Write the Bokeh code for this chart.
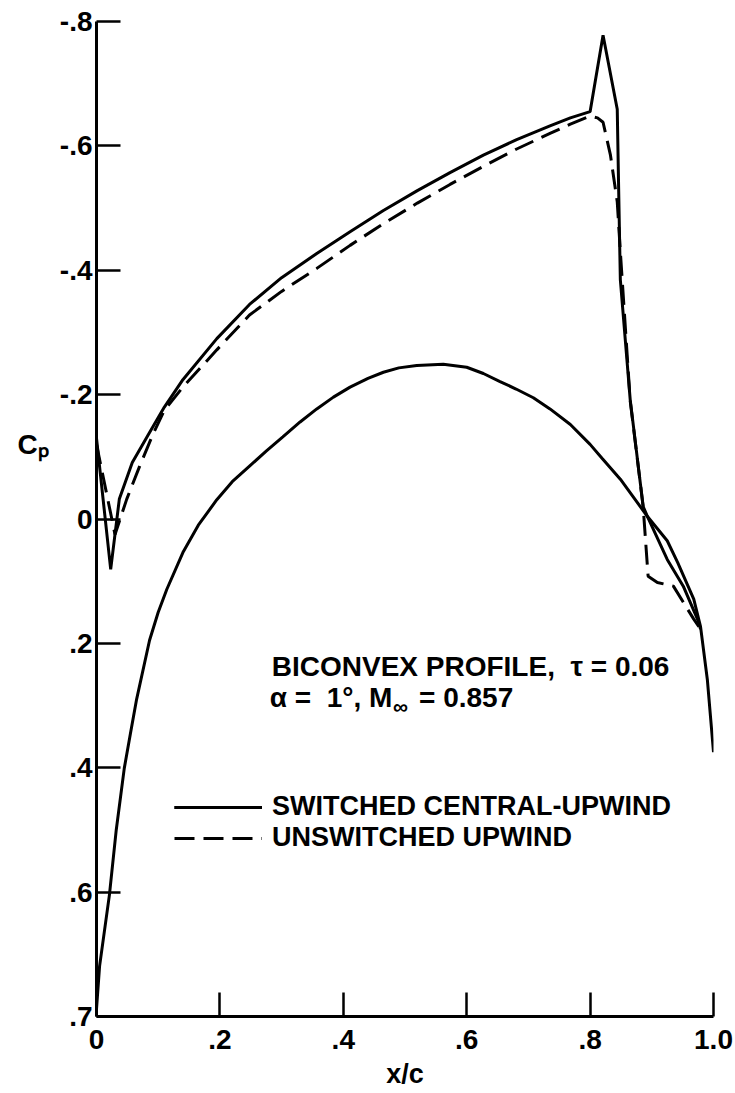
from bokeh.plotting import figure
from bokeh.models import Range1d, FixedTicker, Label
from bokeh.embed import file_html
from bokeh.resources import INLINE

# ---------------- data ----------------
x_ticks = [0.0, 0.2, 0.4, 0.6, 0.8, 1.0]
x_tick_labels = ["0", ".2", ".4", ".6", ".8", "1.0"]
y_ticks = [-0.8, -0.6, -0.4, -0.2, 0.0, 0.2, 0.4, 0.6, 0.8]
y_tick_labels = ["-.8", "-.6", "-.4", "-.2", "0", ".2", ".4", ".6", ".7"]

# switched central-upwind, upper surface
sw_upper_x = [0.0, 0.023, 0.037, 0.058, 0.086, 0.11, 0.14, 0.195, 0.248, 0.30, 0.357, 0.411,
              0.465, 0.52, 0.573, 0.627, 0.681, 0.735, 0.768, 0.80, 0.821, 0.844,
              0.846, 0.849, 0.865, 0.886, 0.893, 0.925, 0.951, 0.974, 0.979]
sw_upper_y = [-0.13, 0.081, -0.032, -0.091, -0.139, -0.18, -0.224, -0.29, -0.345, -0.388, -0.427, -0.462,
              -0.496, -0.528, -0.557, -0.585, -0.61, -0.632, -0.645, -0.655, -0.778, -0.659,
              -0.546, -0.385, -0.192, -0.02, -0.004, 0.065, 0.108, 0.161, 0.177]

# switched central-upwind, lower surface
sw_lower_x = [0.0, 0.005, 0.021, 0.032, 0.045, 0.055, 0.065, 0.086, 0.10, 0.114, 0.14, 0.165,
              0.195, 0.22, 0.248, 0.275, 0.302, 0.33, 0.357, 0.384, 0.411, 0.44, 0.465, 0.49,
              0.519, 0.562, 0.600, 0.627, 0.654, 0.68, 0.708, 0.735, 0.768, 0.80, 0.82, 0.849,
              0.893, 0.925, 0.942, 0.968, 0.979, 0.990, 1.0]
sw_lower_y = [0.788, 0.719, 0.604, 0.50, 0.401, 0.345, 0.29, 0.195, 0.15, 0.113, 0.054, 0.01,
              -0.031, -0.06, -0.085, -0.109, -0.132, -0.156, -0.177, -0.196, -0.212, -0.226, -0.236, -0.243,
              -0.247, -0.249, -0.244, -0.234, -0.221, -0.209, -0.195, -0.177, -0.152, -0.12, -0.097, -0.064,
              -0.004, 0.035, 0.07, 0.129, 0.173, 0.258, 0.375]

# unswitched upwind, upper surface
un_upper_x = [0.0, 0.03, 0.049, 0.07, 0.091, 0.11, 0.14, 0.195, 0.248, 0.30, 0.357, 0.411, 0.465,
              0.52, 0.573, 0.627, 0.681, 0.735, 0.768, 0.80, 0.812, 0.821, 0.833, 0.844,
              0.849, 0.865, 0.886, 0.894, 0.909, 0.935, 0.968, 0.979]
un_upper_y = [-0.12, 0.025, -0.032, -0.085, -0.135, -0.175, -0.212, -0.272, -0.328, -0.366, -0.403, -0.44,
              -0.475, -0.508, -0.538, -0.567, -0.595, -0.62, -0.635, -0.648, -0.645, -0.638,
              -0.585, -0.51, -0.43, -0.19, -0.02, 0.092, 0.102, 0.108, 0.161, 0.177]

label_switched = "SWITCHED CENTRAL-UPWIND"
label_unswitched = "UNSWITCHED UPWIND"

# ---------------- layout helpers (page pixel -> data) ----------------
OFF = 0.5               # observed page offset of the canvas
W, H = 733, 1091
FX0, FX1 = 97, 713      # frame left/right on page
FY0, FY1 = 22, 1017     # frame top/bottom on page


def dx(px):
    return (px - FX0) / (FX1 - FX0)


def dy(py):
    return -0.8 + 1.6 * (py - FY0) / (FY1 - FY0)


FONT = "Liberation Sans"
NB = "\u00a0"

p = figure(width=W, height=H,
           x_range=Range1d(0, 1), y_range=Range1d(0.8, -0.8),
           output_backend="svg", toolbar_location=None,
           min_border_left=int(FX0 - OFF), min_border_right=int(W - (FX1 - OFF)),
           min_border_top=int(FY0 - OFF), min_border_bottom=int(H - (FY1 - OFF)))
p.outline_line_color = None
p.grid.visible = False
p.background_fill_color = "white"

for ax in (p.xaxis[0], p.yaxis[0]):
    ax.axis_line_width = 3
    ax.axis_line_color = "black"
    ax.major_tick_in = 24
    ax.major_tick_out = 0
    ax.major_tick_line_width = 2.5
    ax.major_tick_line_color = "black"
    ax.minor_tick_line_color = None
    ax.major_label_text_font = FONT
    ax.major_label_text_font_style = "bold"
    ax.major_label_text_font_size = "28px"
    ax.major_label_text_color = "black"
    ax.axis_label_text_font = FONT
    ax.axis_label_text_font_style = "bold"
    ax.axis_label_text_color = "black"

p.xaxis.ticker = FixedTicker(ticks=x_ticks)
p.xaxis.major_label_overrides = {t: l for t, l in zip(x_ticks, x_tick_labels)}
p.xaxis.major_label_standoff = 13
p.xaxis.axis_label = "x/c"
p.xaxis.axis_label_text_font_size = "27px"
p.xaxis.axis_label_standoff = 7

p.yaxis.ticker = FixedTicker(ticks=y_ticks)
p.yaxis.major_label_overrides = {t: l for t, l in zip(y_ticks, y_tick_labels)}
p.yaxis.major_label_standoff = 4
p.yaxis.axis_label = "C\u209a\n \n \n \n "
p.yaxis.axis_label_orientation = "horizontal"
p.yaxis.axis_label_text_font_size = "28px"
p.yaxis.axis_label_standoff = 8

# curves
p.line(sw_upper_x, sw_upper_y, line_color="black", line_width=3, legend_label=label_switched)
p.line(sw_lower_x, sw_lower_y, line_color="black", line_width=3, legend_label=label_switched)
p.line(un_upper_x, un_upper_y, line_color="black", line_width=3, line_dash="20 9",
       legend_label=label_unswitched)

lg = p.legend[0]
lg.location = (175 - FX0, FY1 - 854)
lg.border_line_color = None
lg.background_fill_alpha = 0
lg.padding = 0
lg.margin = 0
lg.spacing = 0
lg.glyph_width = 88
lg.glyph_height = 26
lg.label_height = 26
lg.label_standoff = 10
lg.label_text_font = FONT
lg.label_text_font_style = "bold"
lg.label_text_font_size = "27px"
lg.label_text_color = "black"


# annotation text
def add_label(px, py, text, size="28px", align="left", baseline="alphabetic"):
    p.add_layout(Label(x=dx(px), y=dy(py), text=text, text_font=FONT,
                       text_font_style="bold", text_font_size=size,
                       text_align=align, text_baseline=baseline, text_color="black"))


add_label(272, 667, "BICONVEX PROFILE," + NB + NB + "\u03c4 = 0.06")
add_label(270, 698, "\u03b1 =" + NB + NB + "1\u00b0, M")
add_label(393, 707, "\u221e", size="21px")
add_label(419, 698, "= 0.857")

open("out.html", "w").write(file_html(p, INLINE))
